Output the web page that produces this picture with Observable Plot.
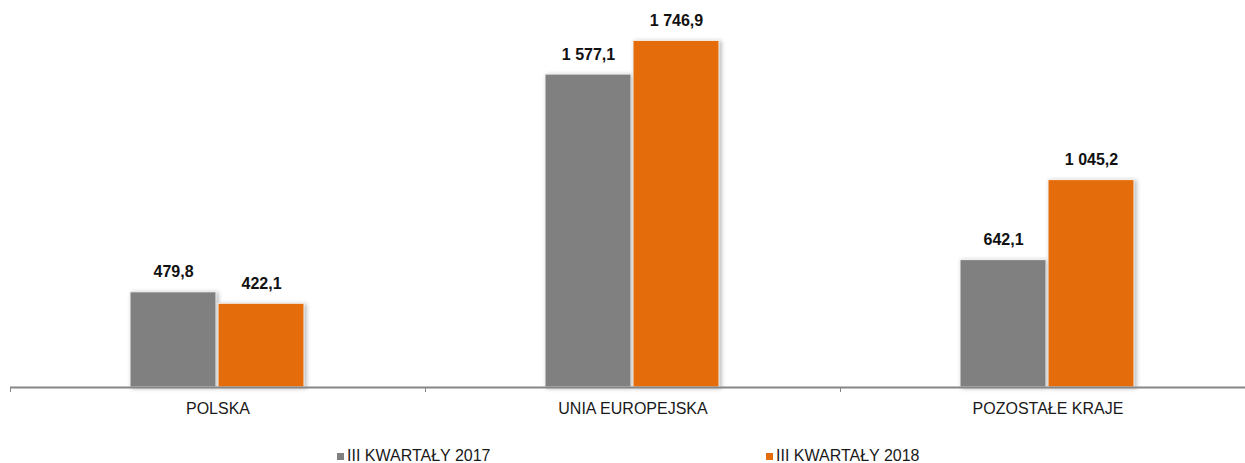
<!DOCTYPE html>
<html><head><meta charset="utf-8">
<script src="https://cdn.jsdelivr.net/npm/d3@7"></script>
<script src="https://cdn.jsdelivr.net/npm/@observablehq/plot@0.6"></script>
<style>
body{margin:0;background:#fff;font-family:"Liberation Sans",Arial,sans-serif;}
#wrap{position:relative;width:1245px;height:463px;overflow:hidden;}
#chart svg{display:block;}
.bars rect{filter:drop-shadow(2px 1px 2px rgba(0,0,0,0.28));}
.legend{position:absolute;top:447px;font-size:16px;line-height:18px;color:#1a1a1a;white-space:nowrap;}
.legend i{display:inline-block;width:7px;height:7px;margin-right:3px;vertical-align:1px;}
</style></head><body>
<div id="wrap"><div id="chart"></div><div id="legend"></div></div>
<script>
const categories = ["POLSKA", "UNIA EUROPEJSKA", "POZOSTAŁE KRAJE"];
const series = ["III KWARTAŁY 2017", "III KWARTAŁY 2018"];
const values2017 = [479.8, 1577.1, 642.1];
const values2018 = [422.1, 1746.9, 1045.2];
const colors = ["#808080", "#E46C0A"];

const rows = [];
categories.forEach((c, i) => {
  rows.push({cat: c, series: series[0], value: values2017[i]});
  rows.push({cat: c, series: series[1], value: values2018[i]});
});
const fmt = d3.formatLocale({decimal: ",", thousands: " ", grouping: [3], currency: ["", ""]}).format(",.1f");

const W = 1245;
const bandHalf = W / categories.length / 2;

const chart = Plot.plot({
  width: W,
  height: 440,
  marginLeft: 10,
  marginRight: -10,
  marginTop: 10,
  marginBottom: 53,
  style: {fontFamily: "'Liberation Sans', Arial, sans-serif", fontSize: "16px", color: "#1a1a1a", background: "#fff"},
  fx: {domain: categories, padding: 0, label: null, axis: null},
  x: {domain: series, axis: null, paddingInner: 0.0227, paddingOuter: 1.369},
  y: {domain: [0, 1900], axis: null},
  color: {domain: series, range: colors},
  marks: [
    Plot.barY(rows, {fx: "cat", x: "series", y: "value", fill: "series", stroke: "#f4f4f4", strokeWidth: 1, className: "bars"}),
    Plot.ruleY([0], {stroke: "#868686", strokeWidth: 2}),
    Plot.text(rows, {fx: "cat", x: "series", y: "value", text: d => fmt(d.value), dy: -20, fontWeight: "bold", fontSize: 16, fill: "#111"}),
    Plot.axisFx({anchor: "bottom", tickSize: 0, tickPadding: 15, fontSize: 16, label: null, fill: "#1a1a1a"}),
    Plot.axisFx({anchor: "bottom", text: null, tickSize: 5, dx: -bandHalf, stroke: "#868686", label: null})
  ]
});
document.getElementById("chart").appendChild(chart);

const legendX = [337, 766];
const leg = document.getElementById("legend");
series.forEach((s, i) => {
  const d = document.createElement("div");
  d.className = "legend";
  d.style.left = legendX[i] + "px";
  d.innerHTML = `<i style="background:${colors[i]}"></i>${s}`;
  leg.appendChild(d);
});
</script>
</body></html>
